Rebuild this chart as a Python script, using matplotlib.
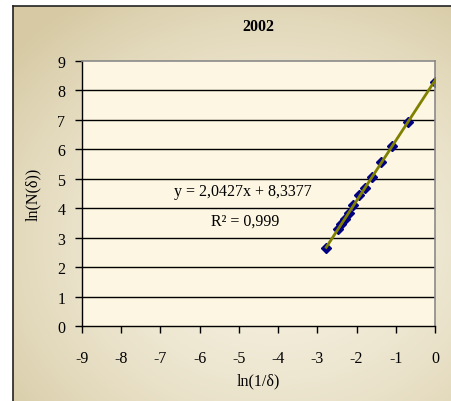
import numpy as np
import matplotlib
matplotlib.use('Agg')
import matplotlib.pyplot as plt

plt.rcParams['font.family'] = ['Liberation Serif', 'DejaVu Serif']
plt.rcParams['axes.unicode_minus'] = False

# Box-counting data: ln(1/delta) vs ln(N(delta))
ln_inv_delta = [0.0, -0.693, -1.099, -1.386, -1.609, -1.792, -1.946,
                -2.079, -2.197, -2.303, -2.398, -2.485, -2.773]
ln_n_delta = [8.30, 6.93, 6.10, 5.56, 5.07, 4.68, 4.45,
              4.11, 3.85, 3.64, 3.45, 3.30, 2.66]

slope = 2.0427
intercept = 8.3377
r_squared = '0,999'

x_ticks = [-9, -8, -7, -6, -5, -4, -3, -2, -1, 0]
y_ticks = [0, 1, 2, 3, 4, 5, 6, 7, 8, 9]

W, H = 452, 402
fig = plt.figure(figsize=(W / 100, H / 100), dpi=100)
fig.patch.set_facecolor('white')

# parchment background of the chart area (frame is cut off at right/bottom)
bg = fig.add_axes([13 / W, 0, 1 - 13 / W, 1 - 7 / H])
gy, gx = np.mgrid[0:1:200j, 0:1:200j]
d = np.sqrt(((gx - 0.6) / 0.8) ** 2 + ((gy - 0.6) / 0.75) ** 2)
d = np.clip(d, 0, 1) ** 1.8
light = np.array([0.96, 0.94, 0.875])
dark = np.array([0.84, 0.79, 0.64])
img = light[None, None, :] * (1 - d[..., None]) + dark[None, None, :] * d[..., None]
bg.imshow(img, aspect='auto', extent=[0, 1, 0, 1], origin='upper')
bg.set_xlim(0, 1)
bg.set_ylim(0, 1)
bg.axis('off')
fig.add_artist(plt.Line2D([13 / W, 13 / W], [0, 1 - 7 / H], color='#222222', lw=1.2,
                          transform=fig.transFigure))
fig.add_artist(plt.Line2D([13 / W, 1], [1 - 7 / H, 1 - 7 / H], color='#222222', lw=1.2,
                          transform=fig.transFigure))

ax = fig.add_axes([82 / W, (H - 327) / H, (435 - 82) / W, (327 - 62) / H])
ax.set_facecolor('#fcf6e2')

for yv in y_ticks[1:-1]:
    ax.axhline(yv, color='black', lw=1.0, zorder=1)

# trendline over data range
xs = np.array([min(ln_inv_delta), max(ln_inv_delta)])
ax.plot(xs, slope * xs + intercept, color='#808000', lw=2, zorder=3)
ax.plot(ln_inv_delta, ln_n_delta, linestyle='none', marker='D', markersize=5.5,
        color='#000080', zorder=2)

ax.set_xlim(-9, 0)
ax.set_ylim(0, 9)
ax.set_xticks(x_ticks)
ax.set_yticks(y_ticks)
ax.set_xticklabels([str(v) for v in x_ticks])
ax.set_yticklabels([str(v) for v in y_ticks])
ax.tick_params(axis='x', direction='out', length=5, width=1, pad=12, labelsize=11.5)
ax.tick_params(axis='y', direction='out', length=5, width=1, pad=7, labelsize=11.5)

for side in ['top', 'right']:
    ax.spines[side].set_color('#8a8a8a')
    ax.spines[side].set_linewidth(1.2)
for side in ['left', 'bottom']:
    ax.spines[side].set_color('black')
    ax.spines[side].set_linewidth(1.0)

ax.set_xlabel('ln(1/δ)', fontsize=11.5, labelpad=5)
ax.set_ylabel('ln(N(δ))', fontsize=11.5, labelpad=12)
ax.set_title('2002', fontsize=11.5, fontweight='bold', pad=22)

# trendline label
ax.text(-4.9, 4.57, f'y = {slope:.4f}x + {intercept:.4f}'.replace('.', ','),
        ha='center', va='center', fontsize=11.5, zorder=4)
ax.text(-4.85, 3.58, f'R² = {r_squared}', ha='center', va='center', fontsize=11.5, zorder=4)

fig.savefig('out.png', dpi=100)
